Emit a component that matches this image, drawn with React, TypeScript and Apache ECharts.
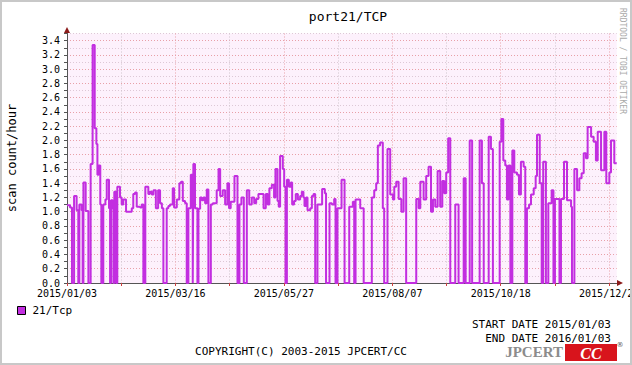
import React, { useEffect, useRef } from "react";
import * as echarts from "echarts";

// Day offset from 2015/01/03 at which each step starts, and its value (scan count/hour)
const dayOffsets = [
  0, 2, 3.3, 4.7, 6.4, 7.5, 8.2, 9.7, 10.4, 10.9, 12.4, 14.2, 15.7, 17, 18.4, 19.5, 20.2, 21, 22.1, 22.8,
  24.1, 25.5, 26.4, 27.9, 28.6, 29.2, 30.3, 30.8, 31.4, 32.6, 33.4, 35.2, 36.3, 37.4, 39.2, 43, 44, 45.2, 46.3, 48.5,
  49.6, 50.7, 52, 54, 55, 56.3, 57.4, 59, 60.5, 61.8, 63, 64, 66.2, 67.3, 68.4, 70.2, 71.1, 72.9, 74.6, 75.7,
  76.9, 78.4, 79.5, 80.6, 82.2, 83.5, 83.9, 85, 86.6, 87.3, 88.4, 89.5, 90.6, 91.7, 92.8, 93.9, 95.5, 96.8, 99.4, 100.6,
  101.7, 103.4, 105, 106.5, 107.6, 108.7, 111.2, 113.2, 114.5, 115.8, 117.4, 119.4, 121, 122.7, 124.3, 125.6, 127.1, 130.5, 132, 133.3,
  134.4, 136, 137.5, 138.4, 139.8, 140.6, 141.5, 143.3, 144.2, 145.1, 146, 147.3, 148.6, 149.5, 150.8, 151.9, 153.3, 154.8, 155.9, 157,
  157.7, 158.8, 159.7, 161.5, 162.6, 163.7, 164.8, 166.3, 169.4, 171.2, 172, 174.3, 175.9, 177.4, 178.3, 179.6, 182.3, 184.3, 187.4, 189.8,
  190.7, 191.6, 194.7, 197, 202.4, 204, 205.3, 206.4, 207.9, 209.7, 210.6, 212.8, 214.6, 216.4, 217.3, 218.6, 220.2, 222, 223.5, 225.2,
  231.9, 233.5, 234.6, 236.8, 238.5, 240.1, 241.7, 243, 244.5, 246.1, 247.8, 249.2, 250.5, 251.8, 253.1, 254.5, 257.8, 260, 263.4, 264.7,
  267.4, 269, 274, 275.5, 276.7, 280, 281.5, 282.8, 287.3, 288.4, 289.7, 291, 292.1, 293.2, 294.4, 295.7, 297, 298.8, 300.1, 301.4,
  303.2, 304.3, 305.4, 306.8, 308.1, 309.9, 311.2, 312.1, 313.9, 315.2, 316.2, 318, 319.6, 321.8, 323, 324, 327, 328, 330, 332,
  334.7, 335.3, 336.9, 338.7, 340.2, 341.7, 343.1, 344.6, 345.7, 348, 349.7, 351.2, 352.4, 354.6, 356.8, 358.1, 360.1, 361.2, 363.4, 365,
];
const scanValues = [
  1.09, 1.06, 0, 1.22, 1.02, 0, 1.1, 1.02, 0, 1.41, 1.01, 0, 1.67, 3.34, 2.17, 1.95, 1.52, 1.65, 1.1, 0,
  1.1, 1.17, 1.45, 1.05, 0, 1.16, 1.04, 0, 1.28, 0, 1.35, 1.2, 1.1, 1.17, 1.0, 1.05, 1.25, 1.27, 1.07, 1.06,
  1.1, 0, 1.35, 1.25, 1.28, 1.24, 1.3, 1.05, 1.3, 1.12, 1.05, 0, 1.05, 1.08, 1.1, 1.33, 1.06, 1.17, 1.4, 1.42,
  1.15, 1.12, 0, 1.05, 1.52, 0, 1.67, 1.05, 0, 1.04, 1.2, 1.16, 1.2, 1.12, 1.31, 0, 1.1, 1.12, 1.3, 1.6,
  1.22, 1.3, 1.1, 1.4, 1.05, 1.14, 1.5, 0, 1.1, 1.2, 0, 1.3, 1.1, 1.2, 1.12, 1.18, 1.25, 1.05, 1.25, 1.1,
  1.33, 1.38, 1.2, 1.6, 1.15, 1.07, 1.78, 1.6, 1.35, 0, 1.45, 1.35, 1.41, 1.1, 1.15, 1.25, 1.17, 1.22, 1.28, 1.2,
  1.08, 1.2, 1.02, 1.05, 1.22, 1.25, 0, 1.1, 1.32, 1.26, 0, 1.12, 1.1, 1.18, 0, 1.05, 1.45, 0, 1.07, 1.14,
  0, 1.17, 1.05, 0, 1.2, 1.3, 1.4, 1.93, 1.97, 1.05, 0, 1.88, 1.24, 1.17, 1.35, 1.42, 1.18, 1.0, 1.47, 0,
  1.18, 1.05, 1.42, 1.17, 1.5, 1.63, 1.0, 1.17, 1.07, 1.57, 1.07, 1.43, 1.26, 1.55, 2.03, 0, 1.1, 0, 1.47, 0,
  2.0, 0, 2.0, 1.4, 0, 2.05, 1.88, 0, 1.98, 2.3, 1.72, 1.65, 1.17, 1.65, 0, 1.86, 1.55, 1.52, 1.24, 1.7,
  1.63, 0, 1.05, 1.1, 1.24, 1.33, 1.5, 2.08, 1.4, 0, 1.7, 0, 1.12, 1.3, 0, 1.18, 0, 1.18, 1.7, 1.16,
  1.07, 0, 1.6, 1.3, 1.47, 1.54, 1.82, 1.75, 2.19, 2.05, 1.98, 1.72, 2.12, 1.58, 2.12, 1.4, 1.55, 2.0, 1.68, 1.68,
];

const xTickDays = [0, 72, 144, 216, 288, 360];
const xTickLabels = ["2015/01/03", "2015/03/16", "2015/05/27", "2015/08/07", "2015/10/18", "2015/12/29"];
const seriesName = "21/Tcp";
const titleText = "port21/TCP";
const yAxisTitle = "scan count/hour";
const startDate = "START DATE 2015/01/03";
const endDate = "END DATE 2016/01/03";
const copyright = "COPYRIGHT(C) 2003-2015 JPCERT/CC";

const MONO = '"DejaVu Sans Mono", monospace';
const LINE = "#c22ee0";

export default function App() {
  const ref = useRef<HTMLDivElement>(null);
  useEffect(() => {
    document.body.style.margin = "0";
    const chart = echarts.init(ref.current!, null, { renderer: "svg" });
    const data = dayOffsets.map((d, i) => [d, scanValues[i]]);
    chart.setOption({
      animation: false,
      backgroundColor: "#ffffff",
      title: {
        text: titleText,
        left: 343,
        top: 5,
        textAlign: "center",
        textStyle: { fontFamily: MONO, fontSize: 13, fontWeight: "normal", color: "#000" },
      },
      legend: {
        data: [seriesName],
        left: 12,
        top: 300,
        icon: "rect",
        itemWidth: 8,
        itemHeight: 8,
        itemGap: 6,
        itemStyle: { borderColor: "#000", borderWidth: 1 },
        textStyle: { fontFamily: MONO, fontSize: 11, color: "#000", padding: [0, 0, 0, 2] },
      },
      grid: {
        left: 67,
        right: 15.3,
        top: 33.5,
        bottom: 82,
        show: true,
        backgroundColor: "#fdf1fc",
        borderWidth: 0,
        containLabel: false,
        outerBoundsMode: "none",
      },
      xAxis: {
        type: "value",
        min: 0,
        max: 365,
        interval: 36,
        axisLine: { show: true, onZero: false, lineStyle: { color: "#555", width: 1 } },
        axisTick: { show: true, length: 3, lineStyle: { color: "#d04040" } },
        axisLabel: {
          fontFamily: MONO,
          fontSize: 10,
          color: "#000",
          margin: 5,
          showMaxLabel: false,
          hideOverlap: false,
          formatter: (v: number) => {
            const i = xTickDays.indexOf(Math.round(v));
            return i >= 0 ? xTickLabels[i] : "";
          },
        },
        splitLine: {
          show: true,
          showMaxLine: false,
          lineStyle: { color: ["#e8a0a8", "#cfc4cc"], type: [1, 2], width: 1 },
        },
      },
      yAxis: {
        type: "value",
        min: 0,
        max: 3.5,
        interval: 0.1,
        axisLine: { show: true, lineStyle: { color: "#555", width: 1 } },
        axisTick: { show: true, length: 3, lineStyle: { color: "#555" } },
        axisLabel: {
          fontFamily: MONO,
          fontSize: 10,
          color: "#000",
          margin: 7,
          formatter: (v: number) => {
            const k = Math.round(v * 10);
            return k % 2 === 0 && k <= 34 ? (k / 10).toFixed(1) : "";
          },
        },
        splitLine: {
          show: true,
          lineStyle: { color: ["#e8a0a8", "#ddc8d6"], type: [1, 2], width: 1 },
        },
      },
      series: [
        {
          name: seriesName,
          type: "line",
          step: "end",
          symbol: "none",
          data,
          color: LINE,
          lineStyle: { color: LINE, width: 2 },
          itemStyle: { color: LINE },
        },
      ],
      graphic: [
        { type: "rect", shape: { x: 1, y: 1, width: 630, height: 363 }, style: { fill: "none", stroke: "#c8c8c8", lineWidth: 2 }, z: 100 },
        { type: "polygon", shape: { points: [[64, 33], [70, 33], [67, 27]] }, style: { fill: "#8b1a1a" }, z: 100 },
        { type: "polygon", shape: { points: [[617, 280], [617, 286], [623, 283]] }, style: { fill: "#8b1a1a" }, z: 100 },
        {
          type: "text",
          x: 12,
          y: 158,
          rotation: Math.PI / 2,
          style: { text: yAxisTitle, font: `12px ${MONO}`, fill: "#000", align: "center", verticalAlign: "middle" },
        },
        {
          type: "text",
          x: 622,
          y: 61,
          rotation: -Math.PI / 2,
          style: { text: "RRDTOOL / TOBI OETIKER", font: `8px ${MONO}`, fill: "#aaaaaa", align: "center", verticalAlign: "middle" },
        },
        { type: "text", x: 611, y: 324, style: { text: startDate, font: `11px ${MONO}`, fill: "#000", align: "right", verticalAlign: "middle" } },
        { type: "text", x: 611, y: 338, style: { text: endDate, font: `11px ${MONO}`, fill: "#000", align: "right", verticalAlign: "middle" } },
        { type: "text", x: 301, y: 351, style: { text: copyright, font: `11px ${MONO}`, fill: "#000", align: "center", verticalAlign: "middle" } },
        { type: "text", x: 563, y: 352, style: { text: "JPCERT", font: 'bold 15px "Liberation Serif", serif', fill: "#8c8c8c", align: "right", verticalAlign: "middle" } },
        { type: "rect", shape: { x: 565, y: 344, width: 52, height: 17 }, style: { fill: "#d8141c" } },
        { type: "text", x: 591, y: 353, style: { text: "CC", font: 'italic bold 16px "Liberation Serif", serif', fill: "#ffffff", align: "center", verticalAlign: "middle" } },
        { type: "text", x: 620, y: 345, style: { text: "®", font: '7px "DejaVu Sans", sans-serif', fill: "#555", align: "center", verticalAlign: "middle" } },
      ],
    });
    return () => chart.dispose();
  }, []);
  return <div ref={ref} style={{ width: 632, height: 365 }} />;
}
